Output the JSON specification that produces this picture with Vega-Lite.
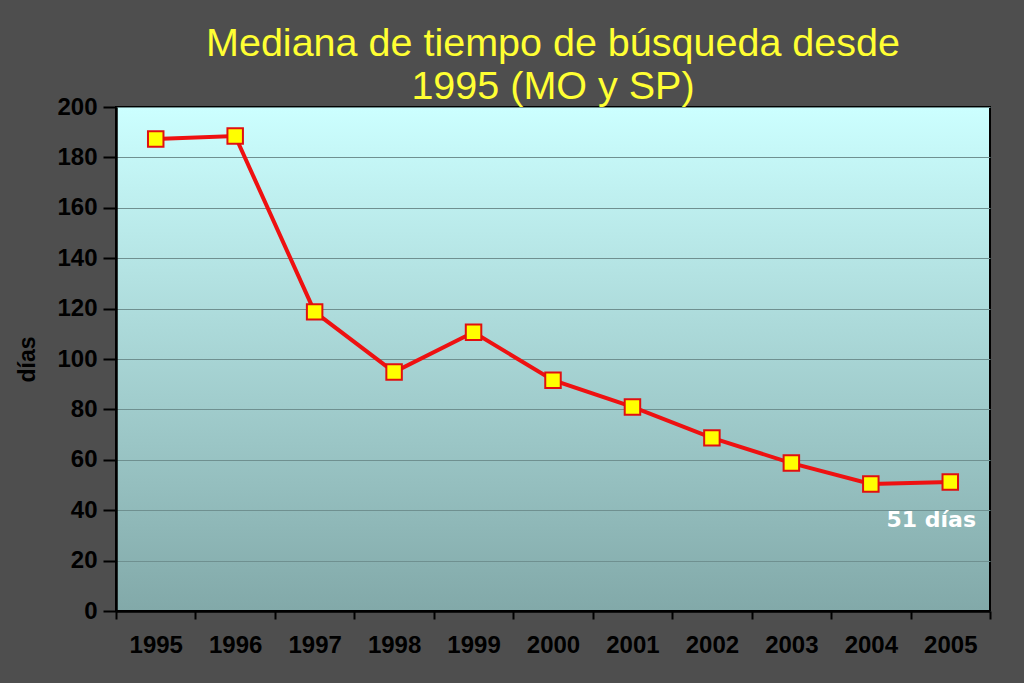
{
  "$schema": "https://vega.github.io/schema/vega-lite/v6.json",
  "width": 874,
  "height": 504,
  "autosize": {"type": "none"},
  "padding": {"left": 116, "top": 107, "right": 34, "bottom": 72},
  "background": "#4e4e4e",
  "title": {
    "text": ["Mediana de tiempo de búsqueda desde", "1995 (MO y SP)"],
    "font": "Liberation Sans",
    "fontSize": 39.5,
    "fontWeight": "normal",
    "color": "#ffff33",
    "lineHeight": 43,
    "anchor": "middle",
    "offset": -12
  },
  "config": {
    "view": {
      "fill": {
        "gradient": "linear",
        "x1": 0, "y1": 0, "x2": 0, "y2": 1,
        "stops": [
          {"offset": 0, "color": "#ccffff"},
          {"offset": 1, "color": "#82a9a9"}
        ]
      },
      "stroke": "#000000",
      "strokeWidth": 2
    },
    "axis": {
      "labelFont": "Liberation Sans",
      "labelFontWeight": "bold",
      "labelFontSize": 24,
      "labelColor": "#000000",
      "titleFont": "Liberation Sans",
      "titleFontWeight": "bold",
      "titleFontSize": 23,
      "titleColor": "#000000",
      "domainColor": "#000000",
      "domainWidth": 2.5,
      "tickColor": "#000000",
      "tickWidth": 2
    }
  },
  "data": {
    "values": [
      {"year": "1995", "dias": 187.3},
      {"year": "1996", "dias": 188.5},
      {"year": "1997", "dias": 118.7},
      {"year": "1998", "dias": 94.8},
      {"year": "1999", "dias": 110.6},
      {"year": "2000", "dias": 91.6},
      {"year": "2001", "dias": 81.0},
      {"year": "2002", "dias": 68.7},
      {"year": "2003", "dias": 58.7},
      {"year": "2004", "dias": 50.4},
      {"year": "2005", "dias": 51.2}
    ]
  },
  "encoding": {
    "x": {
      "field": "year",
      "type": "ordinal",
      "bandPosition": 0.5,
      "scale": {"type": "band", "paddingInner": 0, "paddingOuter": 0},
      "axis": {
        "title": null,
        "labelAngle": 0,
        "tickBand": "extent",
        "tickSize": 8,
        "labelPadding": 14,
        "grid": false
      }
    },
    "y": {
      "field": "dias",
      "type": "quantitative",
      "scale": {"domain": [0, 200], "nice": false},
      "axis": {
        "title": "días",
        "values": [0, 20, 40, 60, 80, 100, 120, 140, 160, 180, 200],
        "tickSize": 13,
        "labelPadding": 6,
        "titlePadding": 17,
        "grid": true,
        "gridColor": "#6f9090",
        "gridWidth": 1
      }
    }
  },
  "layer": [
    {
      "mark": {"type": "line", "color": "#ee1111", "strokeWidth": 4}
    },
    {
      "mark": {
        "type": "point",
        "shape": "square",
        "filled": true,
        "size": 240,
        "fill": "#ffff00",
        "stroke": "#e01010",
        "strokeWidth": 2,
        "opacity": 1
      }
    },
    {
      "data": {"values": [{"year": "2005", "dias": 51.2, "label": "51 días"}]},
      "mark": {
        "type": "text",
        "font": "DejaVu Sans",
        "fontWeight": "bold",
        "fontSize": 22,
        "color": "#ffffff",
        "align": "center",
        "baseline": "middle",
        "dx": -19,
        "dy": 38
      },
      "encoding": {"text": {"field": "label"}}
    }
  ]
}
